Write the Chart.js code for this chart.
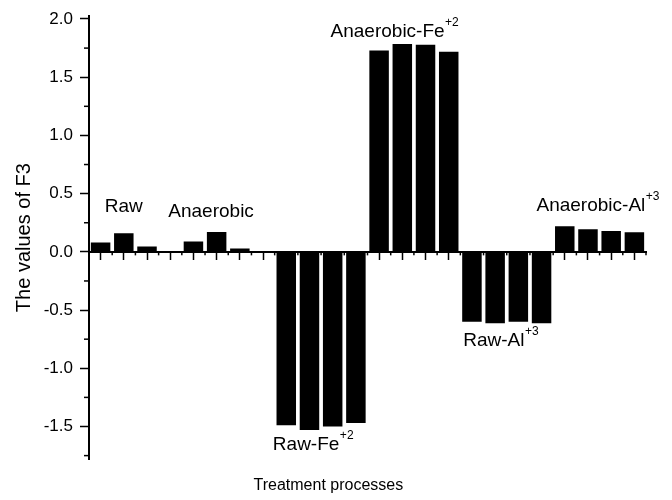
<!DOCTYPE html>
<html>
<head>
<meta charset="utf-8">
<script src="https://cdn.jsdelivr.net/npm/chart.js@4.4.1/dist/chart.umd.min.js"></script>
<style>
  body { margin: 0; background: #fff; }
  #wrap { width: 672px; height: 500px; }
</style>
</head>
<body>
<div id="wrap"><canvas id="bar-chart"></canvas></div>
<script>
// 24 samples, 4 per treatment process
const categories = ["1","2","3","4","5","6","7","8","9","10","11","12","13","14","15","16","17","18","19","20","21","22","23","24"];
const f3values = [0.08, 0.16, 0.045, 0.008, 0.09, 0.17, 0.028, 0,
                  -1.49, -1.53, -1.50, -1.47,
                  1.73, 1.785, 1.778, 1.718,
                  -0.60, -0.613, -0.60, -0.613,
                  0.219, 0.194, 0.179, 0.168];
const yticks = [-1.5, -1.0, -0.5, 0.0, 0.5, 1.0, 1.5, 2.0];

// group labels: text, superscript, position (category index, value)
const groupNames = ["Raw", "Anaerobic", "Raw-Fe", "Anaerobic-Fe", "Raw-Al", "Anaerobic-Al"];
const groupSups = ["", "", "+2", "+2", "+3", "+3"];
const groupAtX = [1.0, 4.76, 9.15, 12.66, 17.24, 21.42];
const groupAtY = [0.39, 0.345, -1.66, 1.89, -0.76, 0.40];

const FONT = "'Liberation Sans', Arial, sans-serif";

const ctx = document.getElementById("bar-chart");

// minor ticks + group labels
const extras = {
  id: "extras",
  afterDraw(chart) {
    const c = chart.ctx;
    const xs = chart.scales.x;
    const ys = chart.scales.y;
    const area = chart.chartArea;
    c.save();
    c.strokeStyle = "#000";
    c.lineWidth = 1.5;
    // y minor ticks
    for (let i = 0; i < yticks.length - 1; i++) {
      const v = (yticks[i] + yticks[i + 1]) / 2;
      const py = ys.getPixelForValue(v);
      c.beginPath(); c.moveTo(area.left - 5, py); c.lineTo(area.left, py); c.stroke();
    }
    const lowMinor = yticks[0] - 0.25;
    if (lowMinor >= ys.min) {
      const py = ys.getPixelForValue(lowMinor);
      c.beginPath(); c.moveTo(area.left - 5, py); c.lineTo(area.left, py); c.stroke();
    }
    // x minor ticks at category boundaries
    const y0 = ys.getPixelForValue(0);
    const w = xs.getPixelForValue(1) - xs.getPixelForValue(0);
    for (let i = 1; i <= categories.length; i++) {
      const px = xs.getPixelForValue(i) - w / 2;
      c.beginPath(); c.moveTo(px, y0); c.lineTo(px, y0 + 3.5); c.stroke();
    }
    // labels
    c.fillStyle = "#000";
    c.textBaseline = "middle";
    for (let i = 0; i < groupNames.length; i++) {
      const px = xs.getPixelForValue(0) + groupAtX[i] * w;
      const py = ys.getPixelForValue(groupAtY[i]);
      c.font = "19px " + FONT;
      const mw = c.measureText(groupNames[i]).width;
      c.font = "12px " + FONT;
      const sw = groupSups[i] ? c.measureText(groupSups[i]).width : 0;
      const left = px - (mw + sw) / 2;
      c.font = "19px " + FONT;
      c.textAlign = "left";
      c.fillText(groupNames[i], left, py);
      if (groupSups[i]) {
        c.font = "12px " + FONT;
        c.fillText(groupSups[i], left + mw + 0.5, py - 9);
      }
    }
    c.restore();
  }
};

new Chart(ctx, {
  type: "bar",
  data: {
    labels: categories,
    datasets: [{
      label: "F3",
      data: f3values,
      backgroundColor: "#000",
      borderWidth: 0,
      barPercentage: 0.84,
      categoryPercentage: 1.0
    }]
  },
  options: {
    responsive: true,
    maintainAspectRatio: false,
    animation: false,
    events: [],
    layout: { padding: { top: 4.5, right: 26, left: 10.7 } },
    plugins: {
      legend: { display: false },
      tooltip: { enabled: false },
      title: {
        display: true,
        position: "bottom",
        text: "Treatment processes",
        color: "#000",
        font: { family: FONT, size: 16, weight: "normal" },
        padding: { top: 16, bottom: 5 }
      }
    },
    scales: {
      x: {
        type: "category",
        position: { y: 0 },
        offset: true,
        grid: {
          offset: false,
          drawOnChartArea: false,
          drawTicks: true,
          tickLength: 7,
          tickColor: "#000",
          tickWidth: 1.5
        },
        border: { display: true, color: "#000", width: 2 },
        ticks: { display: false }
      },
      y: {
        min: -1.786,
        max: 2.03,
        afterBuildTicks: (axis) => { axis.ticks = yticks.map(v => ({ value: v })); },
        grid: {
          drawOnChartArea: false,
          tickLength: 9,
          tickColor: "#000",
          tickWidth: 1.5
        },
        border: { display: true, color: "#000", width: 2 },
        ticks: {
          color: "#000",
          font: { family: FONT, size: 17, lineHeight: 1 },
          padding: 7,
          callback: (v) => Number(v).toFixed(1)
        },
        title: {
          display: true,
          text: "The values of F3",
          color: "#000",
          font: { family: FONT, size: 20 },
          padding: { top: 2, bottom: 0 }
        }
      }
    }
  },
  plugins: [extras]
});
</script>
</body>
</html>
